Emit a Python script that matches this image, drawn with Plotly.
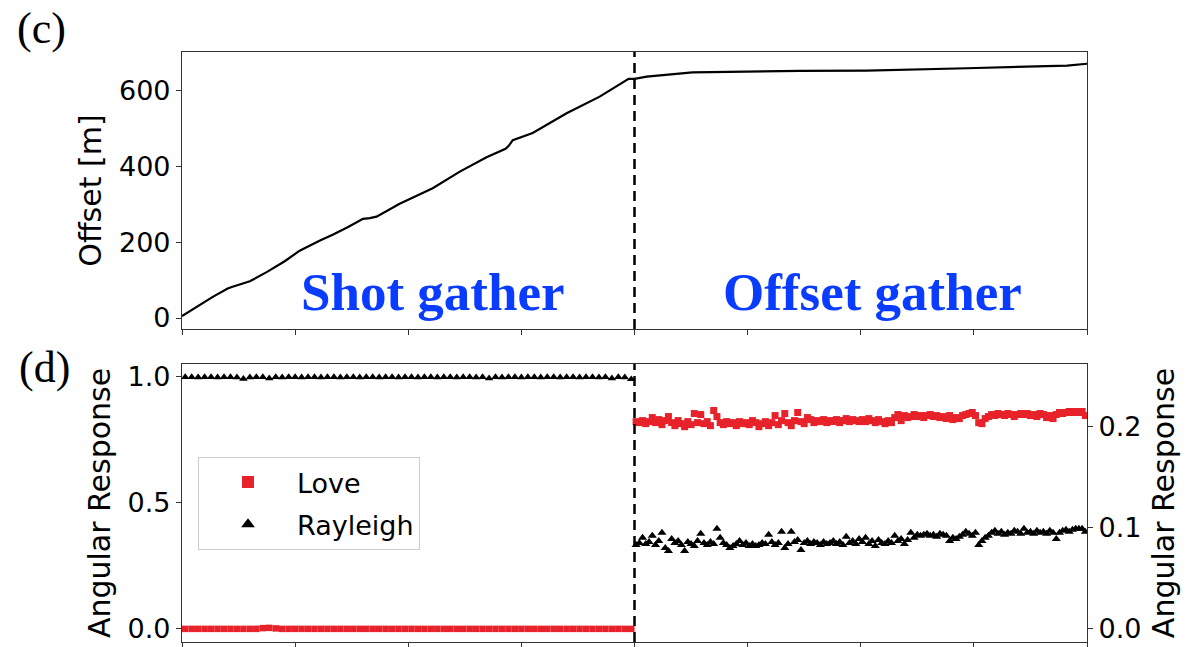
import numpy as np
import plotly.graph_objects as go

# Shot gather occupies positions 0..1, offset gather 1..2.
SHOT_POS = [0.000, 0.068, 0.101, 0.110, 0.150, 0.188, 0.227, 0.260, 0.305, 0.333,
            0.366, 0.400, 0.415, 0.430, 0.481, 0.554, 0.614, 0.673, 0.715, 0.722,
            0.731, 0.775, 0.850, 0.923, 0.987, 1.000]
SHOT_OFFSET = [5, 56, 78, 82, 97, 122, 150, 178, 205, 220,
               240, 262, 264, 268, 302, 343, 387, 425, 447, 455,
               470, 489, 541, 585, 632, 632]
GATHER_POS = [1.000, 1.027, 1.128, 1.365, 1.513, 1.735, 1.956, 2.000]
GATHER_OFFSET = [632, 638, 649, 653, 654, 660, 667, 672]

# ---- Angular response, shot gather (left axis) ----
N_SHOT = 70
LOVE_SHOT = [0.000] * 12 + [0.003, 0.004, 0.002] + [0.000] * 55
RAYLEIGH_SHOT = [0.998, 0.998, 0.997, 0.998, 0.998, 0.997, 0.998, 0.998, 0.997, 0.991,
                 0.997, 0.998, 0.998, 0.993, 0.998, 0.997, 0.998, 0.998, 0.997, 0.998,
                 0.998, 0.997, 0.998, 0.998, 0.997, 0.998, 0.998, 0.997, 0.998, 0.998,
                 0.997, 0.998, 0.998, 0.997, 0.998, 0.998, 0.997, 0.998, 0.998, 0.997,
                 0.998, 0.998, 0.997, 0.998, 0.998, 0.997, 0.998, 0.993, 0.998, 0.997,
                 0.998, 0.998, 0.997, 0.998, 0.998, 0.997, 0.998, 0.998, 0.997, 0.998,
                 0.998, 0.997, 0.998, 0.998, 0.997, 0.998, 0.993, 0.998, 0.997, 0.990]

# ---- Angular response, offset gather (right axis) ----
LOVE_GATHER = [
    0.205, 0.204, 0.206, 0.203, 0.205, 0.209, 0.204, 0.207, 0.202, 0.206,
    0.210, 0.204, 0.201, 0.206, 0.203, 0.200, 0.205, 0.202, 0.213, 0.204,
    0.212, 0.203, 0.205, 0.201, 0.216, 0.210, 0.204, 0.202, 0.205, 0.203,
    0.204, 0.201, 0.205, 0.203, 0.204, 0.202, 0.206, 0.204, 0.200, 0.203,
    0.205, 0.201, 0.204, 0.211, 0.202, 0.206, 0.213, 0.204, 0.201, 0.206,
    0.214, 0.205, 0.203, 0.209, 0.207, 0.204, 0.206, 0.205, 0.207, 0.204,
    0.206, 0.205, 0.207, 0.204, 0.206, 0.208, 0.205, 0.207, 0.206, 0.205,
    0.207, 0.205, 0.208, 0.206, 0.204, 0.207, 0.205, 0.203, 0.206, 0.204,
    0.209, 0.212, 0.206, 0.211, 0.209, 0.210, 0.212, 0.210, 0.211, 0.209,
    0.211, 0.212, 0.210, 0.211, 0.209, 0.210, 0.208, 0.211, 0.207, 0.209,
    0.208, 0.211, 0.212, 0.213, 0.214, 0.211, 0.204, 0.203, 0.208, 0.210,
    0.212, 0.211, 0.213, 0.212, 0.211, 0.213, 0.212, 0.210, 0.212, 0.213,
    0.212, 0.213, 0.211, 0.212, 0.210, 0.213, 0.212, 0.209, 0.211, 0.208,
    0.212, 0.214, 0.213, 0.214, 0.215, 0.214, 0.215, 0.214, 0.215, 0.211,
]
RAYLEIGH_GATHER = [
    0.083, 0.085, 0.090, 0.084, 0.086, 0.092, 0.083, 0.087, 0.095, 0.080,
    0.077, 0.089, 0.085, 0.087, 0.083, 0.077, 0.086, 0.084, 0.082, 0.087,
    0.094, 0.085, 0.083, 0.086, 0.084, 0.099, 0.090, 0.085, 0.083, 0.080,
    0.082, 0.084, 0.087, 0.083, 0.085, 0.082, 0.084, 0.082, 0.083, 0.085,
    0.084, 0.093, 0.086, 0.083, 0.085, 0.096, 0.080, 0.084, 0.096, 0.086,
    0.088, 0.078, 0.085, 0.087, 0.084, 0.086, 0.085, 0.083, 0.086, 0.084,
    0.085, 0.087, 0.084, 0.086, 0.083, 0.091, 0.085, 0.087, 0.084, 0.089,
    0.086, 0.090, 0.084, 0.087, 0.082, 0.088, 0.085, 0.084, 0.087, 0.085,
    0.092, 0.087, 0.089, 0.084, 0.088, 0.095, 0.090, 0.093, 0.092, 0.093,
    0.094, 0.092, 0.093, 0.091, 0.094, 0.093, 0.092, 0.087, 0.090, 0.089,
    0.091, 0.093, 0.096, 0.094, 0.092, 0.095, 0.083, 0.087, 0.090, 0.092,
    0.095, 0.097, 0.094, 0.096, 0.093, 0.095, 0.094, 0.097, 0.096, 0.094,
    0.099, 0.095, 0.096, 0.094, 0.097, 0.095, 0.096, 0.094, 0.097, 0.095,
    0.089, 0.095, 0.097, 0.098, 0.096, 0.098, 0.099, 0.099, 0.099, 0.096,
]
N_GATHER = len(LOVE_GATHER)

X_TICKS = [0, 0.25, 0.5, 0.75, 1.0, 1.25, 1.5, 1.75, 2.0]
OFFSET_TICKS = [0, 200, 400, 600]
RESP_LEFT_TICKS = [0.0, 0.5, 1.0]
RESP_RIGHT_TICKS = [0.0, 0.1, 0.2]

# trace centres within each half
shot_x = (np.arange(N_SHOT) + 0.5) / N_SHOT
gather_x = 1 + (np.arange(N_GATHER) + 0.5) / N_GATHER

RED = "#e8222a"
BLUE = "#0a3cff"
FRAME = "#333333"
FONT = "DejaVu Sans"

fig = go.Figure()

# top panel: offset curve
fig.add_trace(go.Scatter(x=SHOT_POS + GATHER_POS[1:], y=SHOT_OFFSET + GATHER_OFFSET[1:],
                         mode="lines", line=dict(color="black", width=2.2),
                         xaxis="x", yaxis="y", showlegend=False, hoverinfo="skip"))

# bottom panel: shot gather on left axis
fig.add_trace(go.Scatter(x=shot_x, y=LOVE_SHOT, mode="markers", name="Love",
                         marker=dict(symbol="square", size=6.5, color=RED),
                         xaxis="x2", yaxis="y2", legendgroup="love"))
fig.add_trace(go.Scatter(x=shot_x, y=RAYLEIGH_SHOT, mode="markers", name="Rayleigh",
                         marker=dict(symbol="triangle-up", size=7.5, color="black"),
                         xaxis="x2", yaxis="y2", legendgroup="ray"))
# offset gather on right axis
fig.add_trace(go.Scatter(x=gather_x, y=LOVE_GATHER, mode="markers", name="Love",
                         marker=dict(symbol="square", size=7, color=RED),
                         xaxis="x2", yaxis="y4", legendgroup="love", showlegend=False))
fig.add_trace(go.Scatter(x=gather_x, y=RAYLEIGH_GATHER, mode="markers", name="Rayleigh",
                         marker=dict(symbol="triangle-up", size=8, color="black"),
                         xaxis="x2", yaxis="y4", legendgroup="ray", showlegend=False))

tickfont = dict(family=FONT, size=27, color="black")
titlefont = dict(family=FONT, size=30, color="black")

xcommon = dict(range=[0, 2], tickvals=X_TICKS, ticktext=[""] * len(X_TICKS),
               ticks="outside", ticklen=5, tickcolor=FRAME, showline=True,
               linecolor=FRAME, linewidth=1.2, mirror=True, showgrid=False,
               zeroline=False, automargin=False)
ycommon = dict(ticks="outside", ticklen=5, tickcolor=FRAME, showline=True,
               linecolor=FRAME, linewidth=1.2, showgrid=False, zeroline=False,
               tickfont=tickfont, automargin=False)

TOP = [0.5305, 1.0]
BOT = [0.0, 0.4712]

fig.update_layout(
    width=1192, height=647,
    margin=dict(l=182, r=105, t=52, b=5),
    paper_bgcolor="white", plot_bgcolor="white",
    xaxis=dict(domain=[0, 1], anchor="y", **xcommon),
    xaxis2=dict(domain=[0, 1], anchor="y2", matches="x", **xcommon),
    yaxis=dict(domain=TOP, anchor="x", range=[-29, 703], tickvals=OFFSET_TICKS,
               title=dict(text="Offset [m]", font=titlefont, standoff=8),
               mirror=True, **ycommon),
    yaxis3=dict(domain=TOP, anchor="x", overlaying="y", side="right",
                range=[-29, 703], tickvals=OFFSET_TICKS,
                title=dict(text="Offset [m]", font=titlefont, standoff=12), **ycommon),
    yaxis2=dict(domain=BOT, anchor="x2", range=[-0.052, 1.05], tickvals=RESP_LEFT_TICKS,
                tickformat=".1f", mirror=True,
                title=dict(text="Angular Response", font=titlefont, standoff=8),
                **ycommon),
    yaxis4=dict(domain=BOT, anchor="x2", overlaying="y2", side="right",
                range=[-0.013, 0.262], tickvals=RESP_RIGHT_TICKS, tickformat=".1f",
                title=dict(text="Angular Response", font=titlefont, standoff=12),
                **ycommon),
    legend=dict(x=0.0177, y=0.3136, xanchor="left", yanchor="top",
                bgcolor="white", bordercolor="#cccccc", borderwidth=1,
                font=dict(family=FONT, size=27, color="black"),
                itemsizing="constant", itemwidth=88, tracegroupgap=4),
    showlegend=True,
)

# boundary between shot gather and offset gather
for yref in ["y domain", "y2 domain"]:
    fig.add_shape(type="line", xref="x", yref=yref, x0=1, x1=1, y0=0, y1=1,
                  line=dict(color="black", width=2.5, dash="10px,6px"), layer="above")

ann_font = dict(family="Liberation Serif", size=53, color=BLUE)
fig.add_annotation(text="<b>Shot gather</b>", x=0.555, xref="x", y=0.594, yref="paper",
                   showarrow=False, font=ann_font, xanchor="center", yanchor="middle")
fig.add_annotation(text="<b>Offset gather</b>", x=1.527, xref="x", y=0.594, yref="paper",
                   showarrow=False, font=ann_font, xanchor="center", yanchor="middle")

panel_font = dict(family="Liberation Serif", size=44, color="black")
fig.add_annotation(text="(c)", x=-0.1547, y=1.04, xref="paper", yref="paper",
                   showarrow=False, font=panel_font, xanchor="center", yanchor="middle")
fig.add_annotation(text="(d)", x=-0.152, y=0.465, xref="paper", yref="paper",
                   showarrow=False, font=panel_font, xanchor="center", yanchor="middle")

fig.write_html("out.html")
